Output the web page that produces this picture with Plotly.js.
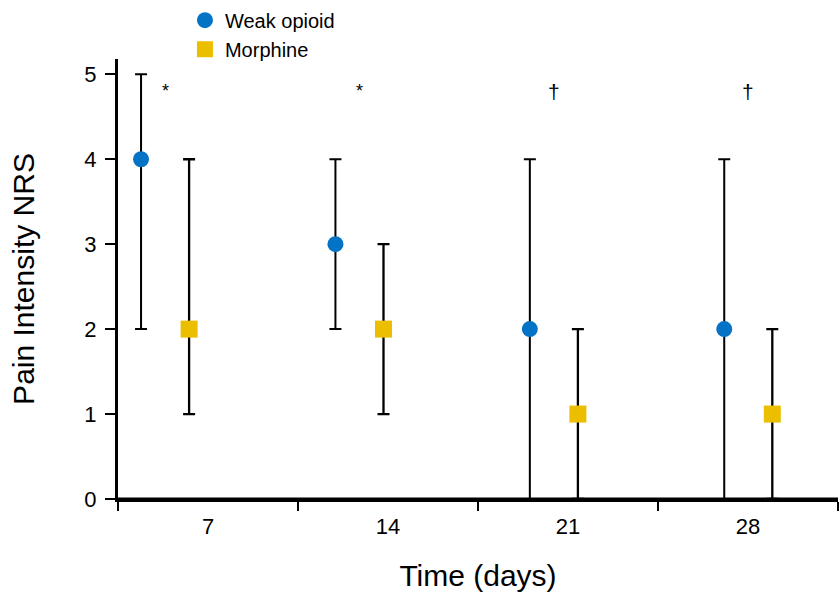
<!DOCTYPE html>
<html>
<head>
<meta charset="utf-8">
<script src="https://cdn.plot.ly/plotly-3.0.1.min.js"></script>
<style>html,body{margin:0;padding:0;background:#fff;}#chart{width:840px;height:596px;}</style>
</head>
<body>
<div id="chart"></div>
<script>
// ---- data ----
const days = ['7', '14', '21', '28'];
const weakMedian = [4, 3, 2, 2];
const weakUpper = [5, 4, 4, 4];
const weakLower = [2, 2, 0, 0];
const morphMedian = [2, 2, 1, 1];
const morphUpper = [4, 3, 2, 2];
const morphLower = [1, 1, 0, 0];
const significance = ['*', '*', '\u2020', '\u2020'];

// ---- layout helpers (positions of the pair within each day group) ----
const groupSpacing = 1.08;
const weakOffset = -0.372;
const pairGap = 0.267;
const weakX = days.map((d, i) => weakOffset + groupSpacing * i);
const morphX = weakX.map(x => x + pairGap);

const FONT = 'Liberation Sans, Arial, Helvetica, sans-serif';
const BLUE = '#0473C6';
const YELLOW = '#EBBE00';

function errs(med, up, lo) {
  return {
    plus: med.map((m, i) => up[i] - m),
    minus: med.map((m, i) => m - lo[i])
  };
}
const we = errs(weakMedian, weakUpper, weakLower);
const me = errs(morphMedian, morphUpper, morphLower);

const traces = [
  { // establishes the category axis
    x: days, y: days.map(() => null), xaxis: 'x', yaxis: 'y',
    type: 'scatter', mode: 'markers', showlegend: false, hoverinfo: 'skip'
  },
  {
    name: 'Weak opioid', x: weakX, y: weakMedian, xaxis: 'x2', yaxis: 'y',
    type: 'scatter', mode: 'markers',
    marker: { symbol: 'circle', size: 16, color: BLUE },
    error_y: { type: 'data', symmetric: false, array: we.plus, arrayminus: we.minus,
      color: '#000', thickness: 2, width: 6 }
  },
  {
    name: 'Morphine', x: morphX, y: morphMedian, xaxis: 'x2', yaxis: 'y',
    type: 'scatter', mode: 'markers',
    marker: { symbol: 'square', size: 17, color: YELLOW },
    error_y: { type: 'data', symmetric: false, array: me.plus, arrayminus: me.minus,
      color: '#000', thickness: 2.3, width: 6 }
  }
];

const annotations = significance.map((s, i) => ({
  x: (weakX[i] + morphX[i]) / 2, y: 4.8, xref: 'x2', yref: 'y',
  text: s, showarrow: false,
  font: { family: FONT, size: s === '*' ? 18 : 21, color: '#000' }
}));

const layout = {
  width: 840, height: 596,
  margin: { l: 118, r: 2, t: 58, b: 97 },
  paper_bgcolor: '#fff', plot_bgcolor: '#fff',
  font: { family: FONT, color: '#000' },
  showlegend: true,
  legend: {
    x: 0.093, y: 1.13, xanchor: 'left', yanchor: 'top',
    font: { family: FONT, size: 20, color: '#000' },
    bgcolor: 'rgba(0,0,0,0)'
  },
  xaxis: {
    type: 'category', categoryorder: 'array', categoryarray: days,
    range: [-0.5, 3.5], tickson: 'boundaries',
    showline: true, linecolor: '#000', linewidth: 3,
    ticks: 'outside', ticklen: 9, tickwidth: 2, tickcolor: '#000',
    ticklabelstandoff: 6,
    showgrid: false, zeroline: false,
    tickfont: { family: FONT, size: 22, color: '#000' },
    title: { text: 'Time (days)', font: { family: FONT, size: 30, color: '#000' }, standoff: 27 }
  },
  xaxis2: {
    overlaying: 'x', range: [-0.5, 3.5], visible: false, showgrid: false, zeroline: false
  },
  yaxis: {
    range: [0, 5.18], tickvals: [0, 1, 2, 3, 4, 5],
    showline: true, linecolor: '#000', linewidth: 3,
    ticks: 'outside', ticklen: 10, tickwidth: 2, tickcolor: '#000',
    ticklabelstandoff: 4,
    showgrid: false, zeroline: false,
    tickfont: { family: FONT, size: 22, color: '#000' },
    title: { text: 'Pain Intensity NRS', font: { family: FONT, size: 30, color: '#000' }, standoff: 41 }
  },
  shapes: [{
    type: 'line', layer: 'above', xref: 'paper', yref: 'y',
    x0: 0, x1: 1, y0: 0, y1: 0, line: { color: '#000', width: 3 }
  }],
  annotations: annotations
};

Plotly.newPlot('chart', traces, layout, { displayModeBar: false, staticPlot: true });
</script>
</body>
</html>
